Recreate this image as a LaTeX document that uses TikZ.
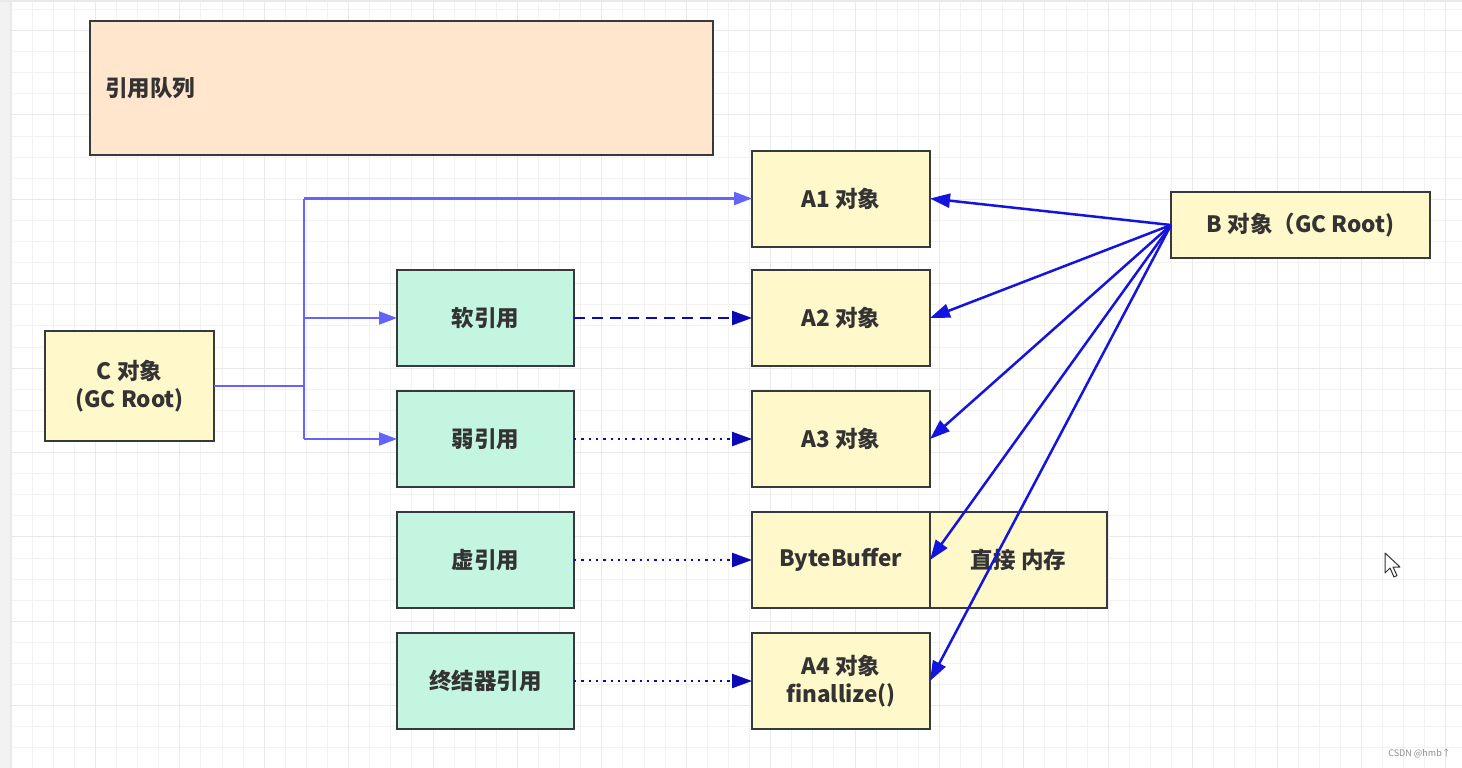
\documentclass[tikz,border=0pt]{standalone}
\usepackage{fontspec}
\setmainfont{Noto Sans CJK SC}
\usetikzlibrary{arrows.meta}
\definecolor{txt}{HTML}{333333}
\definecolor{edge}{HTML}{36393D}
\definecolor{peach}{HTML}{FFE6CC}
\definecolor{ylw}{HTML}{FFF8CA}
\definecolor{mint}{HTML}{C4F5E1}
\definecolor{lblue}{HTML}{6464FA}
\definecolor{dblue}{HTML}{1414E0}
\definecolor{nblue}{HTML}{0A0AB4}
\definecolor{gminor}{HTML}{F2F2F2}
\definecolor{gmajor}{HTML}{E9E9E9}
\tikzset{
  box/.style={draw=edge, line width=2pt, inner sep=0pt, outer sep=0pt, text=txt,
    font=\fontsize{22.5}{28}\selectfont\bfseries, align=center},
  ybox/.style={box, fill=ylw, minimum width=178pt, minimum height=96pt},
  mbox/.style={box, fill=mint, minimum width=177pt, minimum height=96pt},
  fork/.style={draw=lblue, line width=2.3pt},
  forkarrow/.style={fork, -{Triangle[length=18pt,width=13pt]}},
  refarrow/.style={draw=nblue, line width=2.3pt, -{Triangle[length=20pt,width=14pt]}},
  barrow/.style={draw=dblue, line width=2.5pt, -{Triangle[length=20pt,width=14pt]}},
}
\begin{document}
\begin{tikzpicture}[x=1pt,y=-1pt]
\useasboundingbox (0,0) rectangle (1462,768);
\fill[white] (0,0) rectangle (1462,768);
% grid
\foreach \i in {0,...,69} {\draw[gminor, line width=1pt] ({11+21.1*\i},0) -- ({11+21.1*\i},768);}
\foreach \j in {0,...,36} {\draw[gminor, line width=1pt] (0,{9.4+21.1*\j}) -- (1462,{9.4+21.1*\j});}
\foreach \i in {0,...,17} {\draw[gmajor, line width=1pt] ({11+84.4*\i},0) -- ({11+84.4*\i},768);}
\foreach \j in {0,...,9} {\draw[gmajor, line width=1pt] (0,{30.5+84.4*\j}) -- (1462,{30.5+84.4*\j});}
\fill[gminor] (0,0) rectangle (10,768);
\draw[gmajor, line width=1pt] (10,0) -- (10,768);
\fill[gmajor] (0,0) rectangle (1462,2);

% nodes
\node[box, fill=peach, minimum width=623pt, minimum height=134pt, text width=593pt, align=left] (queue) at (401.5,88) {引用队列};
\node[ybox] (A1) at (841,198.5) {A1 对象};
\node[ybox] (A2) at (841,318) {A2 对象};
\node[ybox] (A3) at (841,439) {A3 对象};
\node[ybox] (BB) at (841,560) {ByteBuffer};
\node[ybox, minimum width=177pt] (DM) at (1018.5,560) {直接 内存};
\node[ybox] (A4) at (841,681) {A4 对象\\finallize()};
\node[box, fill=ylw, minimum width=259pt, minimum height=66pt] (B) at (1300.5,225) {B 对象（GC Root)};
\node[box, fill=ylw, minimum width=169pt, minimum height=110pt] (C) at (129.5,386) {C 对象\\(GC Root)};
\node[mbox] (soft) at (485.5,318) {软引用};
\node[mbox] (weak) at (485.5,439) {弱引用};
\node[mbox] (phantom) at (485.5,560) {虚引用};
\node[mbox] (final) at (485.5,681) {终结器引用};

% fork from C
\coordinate (fk) at (304,386);
\coordinate (fkA1) at (304,198.5);
\coordinate (fkS) at (304,318);
\coordinate (fkW) at (304,439);
\draw[fork] (C.east) -- (fk);
\draw[fork] (fkA1) -- (fkW);
\draw[forkarrow] (fkA1) -- (A1.west);
\draw[forkarrow] (fkS) -- (soft.west);
\draw[forkarrow] (fkW) -- (weak.west);

% reference arrows
\draw[refarrow, dash pattern=on 11pt off 7pt] (soft.east) -- (A2.west);
\draw[refarrow, dash pattern=on 2.3pt off 5pt] (weak.east) -- (A3.west);
\draw[refarrow, dash pattern=on 2.3pt off 5pt] (phantom.east) -- (BB.west);
\draw[refarrow, dash pattern=on 2.3pt off 5pt] (final.east) -- (A4.west);

% B arrows
\draw[barrow] (B.west) -- (A1.east);
\draw[barrow] (B.west) -- (A2.east);
\draw[barrow] (B.west) -- (A3.east);
\draw[barrow] (B.west) -- (BB.east);
\draw[barrow] (B.west) -- (A4.east);

% cursor
\draw[fill=white, draw=black!80, line width=1pt, line join=round]
  (1385,553) -- (1385,573) -- (1390,568) -- (1394,577) -- (1397,575.5) -- (1393,567) -- (1400,567) -- cycle;

% watermark
\node[text=black!45, font=\fontsize{9}{10}\selectfont, anchor=east, inner sep=0pt] (wm) at (1451,753) {CSDN @hmb↑};
\end{tikzpicture}
\end{document}
